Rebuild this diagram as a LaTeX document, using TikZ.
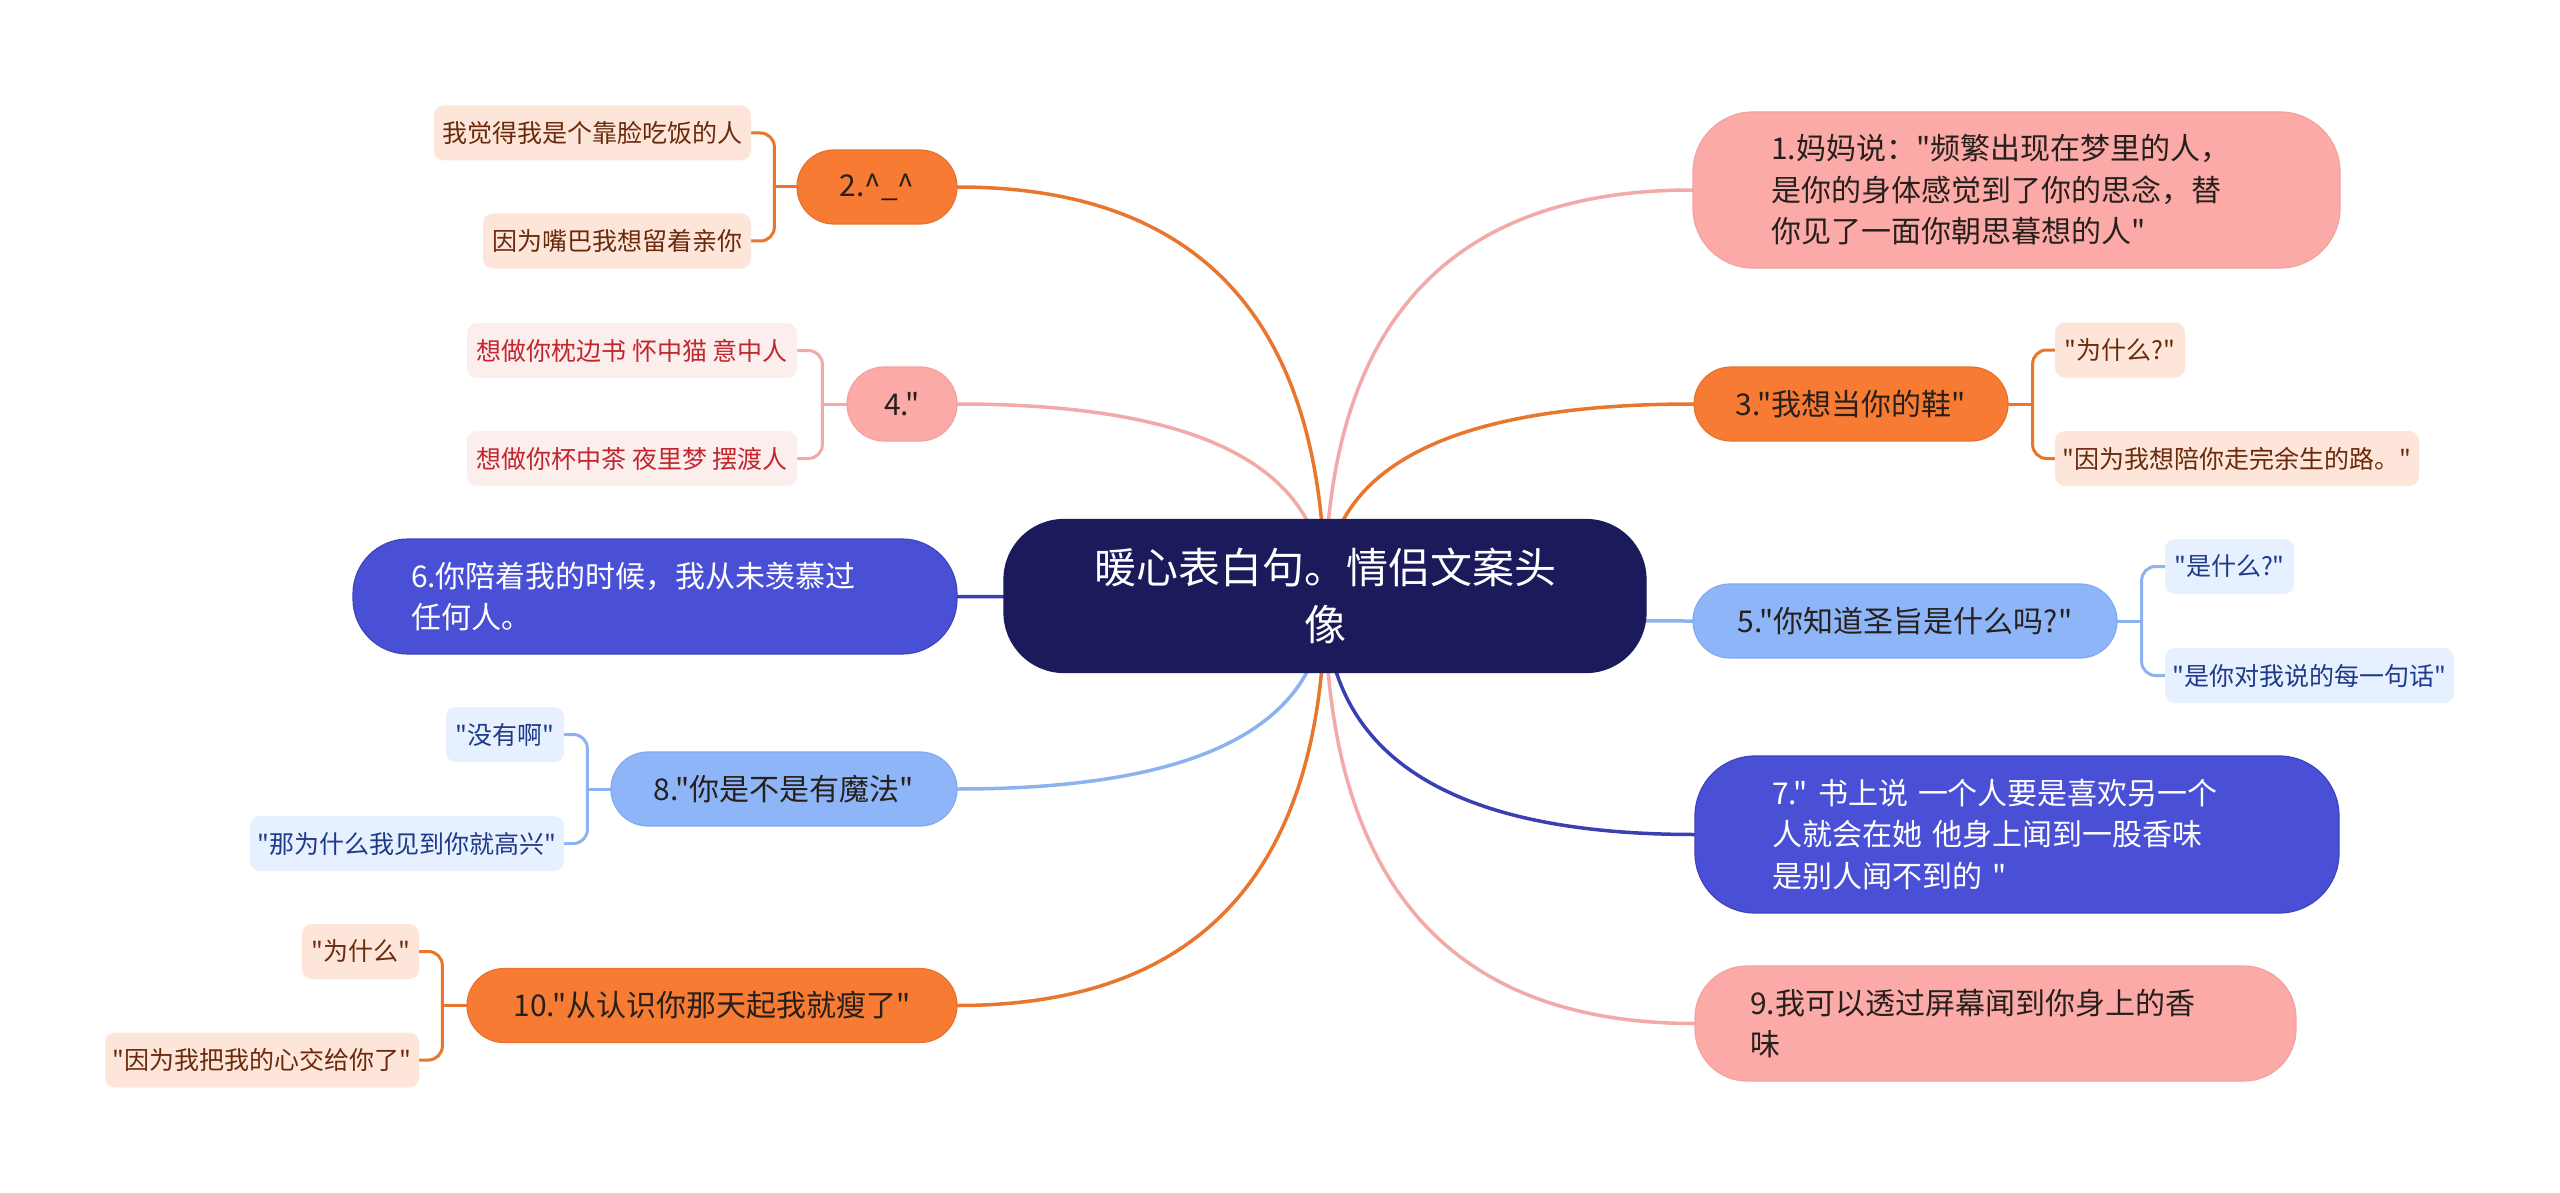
\documentclass[tikz,border=0pt]{standalone}
\usepackage{fontspec}
\setmainfont{Noto Sans CJK SC}[Ligatures=TeXOff]
\usetikzlibrary{calc}
\pgfdeclarelayer{canvas}
\pgfdeclarelayer{background}
\pgfsetlayers{canvas,background,main}
\definecolor{cenF}{HTML}{1B1A5B}
\definecolor{orF}{HTML}{F77B33}
\definecolor{orD}{HTML}{E8722C}
\definecolor{orC}{HTML}{E8762D}
\definecolor{piF}{HTML}{FCAAA8}
\definecolor{piD}{HTML}{F3A2A0}
\definecolor{piC}{HTML}{F2AAA9}
\definecolor{lbF}{HTML}{8DB5F8}
\definecolor{lbD}{HTML}{82AAEE}
\definecolor{lbC}{HTML}{8DB3EE}
\definecolor{bvF}{HTML}{4A50D6}
\definecolor{bvD}{HTML}{3E43C0}
\definecolor{bvC}{HTML}{3A40B2}
\definecolor{dk}{HTML}{26201C}
\definecolor{orCh}{HTML}{FDE6D9}
\definecolor{orT}{HTML}{6B2A0C}
\definecolor{piCh}{HTML}{FDEEEE}
\definecolor{piT}{HTML}{C1272D}
\definecolor{lbCh}{HTML}{E7F0FE}
\definecolor{lbT}{HTML}{1E3A8A}
\tikzset{
  basebox/.style={inner sep=0pt, line width=1.2pt},
  cen/.style={basebox, fill=cenF, draw=cenF, text=white, align=center,
    font=\fontsize{42}{57}\selectfont, minimum width=642pt, minimum height=153pt, rounded corners=60pt},
  lone/.style={basebox, font=\fontsize{30}{41.5}\selectfont, minimum height=74pt, rounded corners=37pt, align=center},
  lmulti/.style={basebox, font=\fontsize{30}{41.5}\selectfont, align=left},
  chbox/.style={inner sep=0pt, font=\fontsize{25}{30}\selectfont, minimum height=55pt, rounded corners=10pt, align=center},
  orN/.style={fill=orF, draw=orD, text=dk},
  piN/.style={fill=piF, draw=piD, text=dk},
  lbN/.style={fill=lbF, draw=lbD, text=dk},
  bvN/.style={fill=bvF, draw=bvD, text=white},
  orK/.style={fill=orCh, text=orT},
  piK/.style={fill=piCh, text=piT},
  lbK/.style={fill=lbCh, text=lbT},
  mainline/.style={line width=3.5pt, line cap=round},
  kidline/.style={line width=3pt, line cap=round, rounded corners=14pt},
}
\newcommand\mainconn[3]{\draw[mainline,#1] (c.center) .. controls ($(c.center)!0.667!(c.center|-#2.#3)$) and ($(#2.#3)!0.667!(c.center|-#2.#3)$) .. (#2.#3);}
\begin{document}
\begin{tikzpicture}[x=1pt,y=-1pt]
\begin{pgfonlayer}{canvas}
\fill[white] (0,0) rectangle (2560,1193);
\end{pgfonlayer}
\useasboundingbox (0,0) rectangle (2560,1193);

% central
\node[cen] (c) at (1325,596) {暖心表白句。情侣文案头\\像};

% right side
\node[lmulti, piN, minimum width=647pt, minimum height=156pt, rounded corners=60pt, text width=491pt] (n1) at (2016.5,190)
  {1.妈妈说："频繁出现在梦里的人，\\是你的身体感觉到了你的思念，替\\你见了一面你朝思暮想的人"};
\node[lone, orN, minimum width=314pt] (n3) at (1851,404) {3."我想当你的鞋"};
\node[chbox, orK, minimum width=130pt] (n3a) at (2120,350) {"为什么?"};
\node[chbox, orK, minimum width=364pt] (n3b) at (2237,458.5) {"因为我想陪你走完余生的路。"};
\node[lone, lbN, minimum width=424pt] (n5) at (1905,621) {5."你知道圣旨是什么吗?"};
\node[chbox, lbK, minimum width=129pt] (n5a) at (2229.5,566.5) {"是什么?"};
\node[chbox, lbK, minimum width=289pt] (n5b) at (2309.5,675.5) {"是你对我说的每一句话"};
\node[lmulti, bvN, minimum width=644pt, minimum height=157pt, rounded corners=60pt, text width=490pt] (n7) at (2017,834.5)
  {7." 书上说 一个人要是喜欢另一个\\人就会在她 他身上闻到一股香味\\是别人闻不到的 "};
\node[lmulti, piN, minimum width=601pt, minimum height=115pt, rounded corners=52pt, text width=491pt] (n9) at (1995.5,1023.5)
  {9.我可以透过屏幕闻到你身上的香\\味};

% left side
\node[lone, orN, minimum width=160pt] (n2) at (877,187) {2.\textasciicircum\_\textasciicircum};
\node[chbox, orK, minimum width=317pt] (n2a) at (592.5,133) {我觉得我是个靠脸吃饭的人};
\node[chbox, orK, minimum width=268pt] (n2b) at (617,241) {因为嘴巴我想留着亲你};
\node[lone, piN, minimum width=110pt] (n4) at (902,404) {4."};
\node[chbox, piK, minimum width=330pt] (n4a) at (632,350.5) {想做你枕边书 怀中猫 意中人};
\node[chbox, piK, minimum width=330pt] (n4b) at (632,458.5) {想做你杯中茶 夜里梦 摆渡人};
\node[lmulti, bvN, minimum width=604pt, minimum height=115pt, rounded corners=55pt, text width=488pt] (n6) at (655,596.5)
  {6.你陪着我的时候，我从未羡慕过\\任何人。};
\node[lone, lbN, minimum width=346pt] (n8) at (784,789) {8."你是不是有魔法"};
\node[chbox, lbK, minimum width=118pt] (n8a) at (505,734.5) {"没有啊"};
\node[chbox, lbK, minimum width=314pt] (n8b) at (407,843.5) {"那为什么我见到你就高兴"};
\node[lone, orN, minimum width=490pt] (n10) at (712,1005.5) {10."从认识你那天起我就瘦了"};
\node[chbox, orK, minimum width=117pt] (n10a) at (360.5,951.5) {"为什么"};
\node[chbox, orK, minimum width=314pt] (n10b) at (262,1060) {"因为我把我的心交给你了"};

\begin{pgfonlayer}{background}
\mainconn{piC}{n1}{west}
\mainconn{orC}{n3}{west}
\mainconn{lbC}{n5}{west}
\mainconn{bvC}{n7}{west}
\mainconn{piC}{n9}{west}
\mainconn{orC}{n2}{east}
\mainconn{piC}{n4}{east}
\mainconn{bvC}{n6}{east}
\mainconn{lbC}{n8}{east}
\mainconn{orC}{n10}{east}
% children
\draw[kidline, orC] (n2.west) -- ++(-22,0) coordinate (s2);
\draw[kidline, orC] (s2) |- (n2a.east);
\draw[kidline, orC] (s2) |- (n2b.east);
\draw[kidline, piC] (n4.west) -- ++(-24,0) coordinate (s4);
\draw[kidline, piC] (s4) |- (n4a.east);
\draw[kidline, piC] (s4) |- (n4b.east);
\draw[kidline, lbC] (n8.west) -- ++(-23,0) coordinate (s8);
\draw[kidline, lbC] (s8) |- (n8a.east);
\draw[kidline, lbC] (s8) |- (n8b.east);
\draw[kidline, orC] (n10.west) -- ++(-24,0) coordinate (s10);
\draw[kidline, orC] (s10) |- (n10a.east);
\draw[kidline, orC] (s10) |- (n10b.east);
\draw[kidline, orC] (n3.east) -- ++(24,0) coordinate (s3);
\draw[kidline, orC] (s3) |- (n3a.west);
\draw[kidline, orC] (s3) |- (n3b.west);
\draw[kidline, lbC] (n5.east) -- ++(24,0) coordinate (s5);
\draw[kidline, lbC] (s5) |- (n5a.west);
\draw[kidline, lbC] (s5) |- (n5b.west);
\end{pgfonlayer}
\end{tikzpicture}
\end{document}
